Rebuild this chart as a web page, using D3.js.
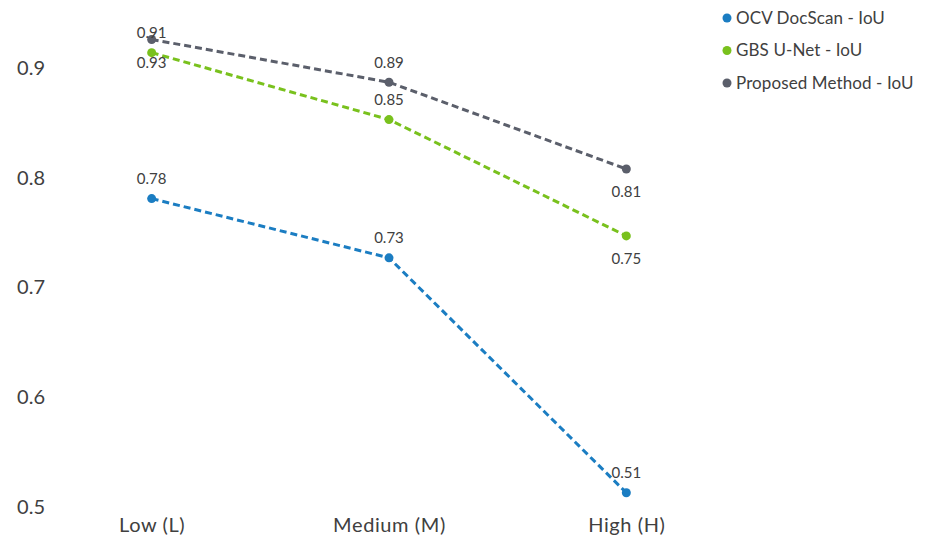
<!DOCTYPE html>
<html>
<head>
<meta charset="utf-8">
<script src="https://cdn.jsdelivr.net/npm/d3@7"></script>
<style>
  html, body { margin: 0; padding: 0; background: #fff; }
  svg { display: block; font-family: Lato, "Open Sans", sans-serif; }
</style>
</head>
<body>
<svg id="chart" width="934" height="540"></svg>
<script>
// Noise levels on the x axis
const categories = ["Low (L)", "Medium (M)", "High (H)"];

// IoU per method and noise level
const ocvDocScan = [0.781, 0.727, 0.513];
const gbsUnet = [0.914, 0.853, 0.747];
const proposed = [0.926, 0.887, 0.808];

const seriesNames = ["OCV DocScan - IoU", "GBS U-Net - IoU", "Proposed Method - IoU"];
const yTicks = [0.5, 0.6, 0.7, 0.8, 0.9];

// Drawing configuration
const colors = ["#1b7dc2", "#79c11d", "#5b5f6b"];
const labelSide = [
  ["above", "above", "above"],
  ["above", "above", "below"],
  ["below", "above", "below"]
];

const series = [ocvDocScan, gbsUnet, proposed].map((values, i) => ({
  name: seriesNames[i],
  color: colors[i],
  points: values.map((v, j) => ({ cat: categories[j], value: v, side: labelSide[i][j] }))
}));

const svg = d3.select("#chart");

const x = d3.scalePoint().domain(categories).range([33, 745]).padding(0.5);
const y = d3.scaleLinear().domain([0.5, 0.9]).range([507, 68]);

// Y axis: labels only
const yAxis = svg.append("g")
  .attr("transform", "translate(47,0)")
  .call(d3.axisLeft(y).tickValues(yTicks).tickFormat(d3.format(".1f")).tickSize(0).tickPadding(2));
yAxis.select(".domain").remove();
yAxis.selectAll("text")
  .attr("fill", "#404040")
  .style("font-size", "20px")
  .style("font-family", "Lato, sans-serif");

// X axis: category labels only
const xAxis = svg.append("g")
  .attr("transform", "translate(0,512)")
  .call(d3.axisBottom(x).tickSize(0).tickPadding(6));
xAxis.select(".domain").remove();
xAxis.selectAll("text")
  .attr("fill", "#404040")
  .style("font-size", "20px")
  .style("letter-spacing", "0.6px")
  .style("font-family", "Lato, sans-serif");

const line = d3.line().x(d => x(d.cat)).y(d => y(d.value));

const fmt = d3.format(".2f");

series.forEach(s => {
  const g = svg.append("g");
  g.append("path")
    .datum(s.points)
    .attr("d", line)
    .attr("fill", "none")
    .attr("stroke", s.color)
    .attr("stroke-width", 3)
    .attr("stroke-dasharray", "7,4");
  g.selectAll("circle")
    .data(s.points)
    .join("circle")
    .attr("cx", d => x(d.cat))
    .attr("cy", d => y(d.value))
    .attr("r", 4.5)
    .attr("fill", s.color);
});

// Value labels drawn after all lines so they sit on top
series.forEach(s => {
  svg.append("g").selectAll("text")
    .data(s.points)
    .join("text")
    .attr("x", d => x(d.cat))
    .attr("y", d => y(d.value) + (d.side === "above" ? -20 : 23))
    .attr("dy", "0.35em")
    .attr("text-anchor", "middle")
    .attr("fill", "#404040")
    .style("font-size", "15px")
    .text(d => fmt(d.value));
});

// Legend
const legend = svg.append("g").attr("transform", "translate(727,18)");
series.forEach((s, i) => {
  const row = legend.append("g").attr("transform", `translate(0,${i * 32.5})`);
  row.append("circle").attr("r", 4.5).attr("fill", s.color);
  row.append("text")
    .attr("x", 9)
    .attr("dy", "0.35em")
    .attr("fill", "#404040")
    .style("font-size", "17px")
    .style("letter-spacing", "0.1px")
    .text(s.name);
});
</script>
</body>
</html>
